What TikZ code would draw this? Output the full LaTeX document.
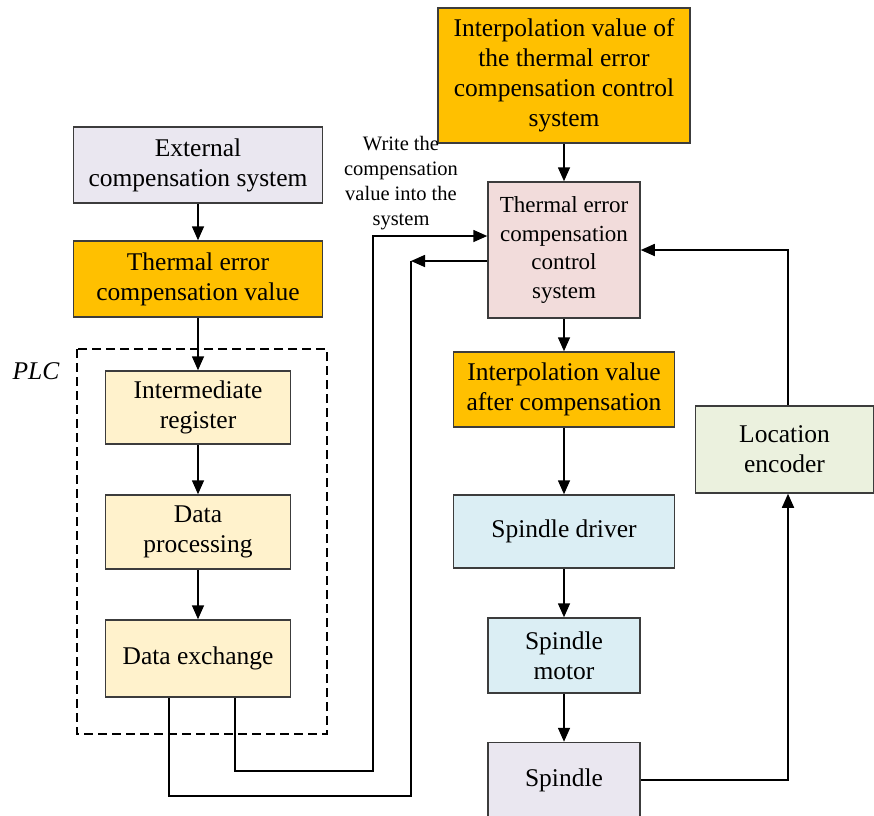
\documentclass[tikz,border=0pt]{standalone}
\usepackage{fontspec}
\setmainfont{Liberation Serif}
\usetikzlibrary{arrows.meta}
\definecolor{lav}{RGB}{234,231,240}
\definecolor{org}{RGB}{255,192,0}
\definecolor{ylw}{RGB}{255,242,204}
\definecolor{pnk}{RGB}{242,220,219}
\definecolor{lblue}{RGB}{219,238,244}
\definecolor{grn}{RGB}{235,241,222}
\definecolor{bord}{RGB}{60,60,60}
\tikzset{
  box/.style={draw=bord, line width=1.5pt, align=center, inner sep=1pt,
    font=\fontsize{25.5}{30}\selectfont},
  arr/.style={line width=1.6pt, -{Triangle[length=14pt,width=12pt]}},
  ln/.style={line width=1.6pt},
}
\begin{document}
\begin{tikzpicture}[x=1pt,y=-1pt]
\useasboundingbox (0,0) rectangle (874,815);
% left column
\node[box, fill=lav, minimum width=249pt, minimum height=76pt] (ext) at (198,165) {External\\compensation system};
\node[box, fill=org, minimum width=249pt, minimum height=76pt] (tval) at (198,279) {Thermal error\\compensation value};
\draw[dash pattern=on 9pt off 5pt, line width=1.5pt] (77,349) rectangle (327,734);
\node[font=\fontsize{25.5}{30}\selectfont\itshape] (plc) at (36,371) {PLC};
\node[box, fill=ylw, minimum width=185pt, minimum height=73pt] (ireg) at (198,407.5) {Intermediate\\register};
\node[box, fill=ylw, minimum width=185pt, minimum height=74pt] (dproc) at (198,532) {Data\\processing};
\node[box, fill=ylw, minimum width=185pt, minimum height=77pt] (dex) at (198,658.5) {Data exchange};
% right column
\node[box, fill=org, minimum width=252pt, minimum height=135pt] (topint) at (564,75.5) {Interpolation value of\\the thermal error\\compensation control\\system};
\node[box, fill=pnk, minimum width=152pt, minimum height=136pt, font=\fontsize{23}{28.5}\selectfont] (ctrl) at (564,250) {Thermal error\\compensation\\control\\system};
\node[box, fill=org, minimum width=221pt, minimum height=75pt] (after) at (564,389.5) {Interpolation value\\after compensation};
\node[box, fill=lblue, minimum width=221pt, minimum height=73pt] (sdrv) at (564,531.5) {Spindle driver};
\node[box, fill=lblue, minimum width=152pt, minimum height=75pt] (smot) at (564,655.5) {Spindle\\motor};
\node[box, fill=lav, minimum width=152pt, minimum height=75pt] (spin) at (564,780) {Spindle};
\node[box, fill=grn, minimum width=178pt, minimum height=87pt] (enc) at (784.5,449.5) {Location\\encoder};
\node[align=center, inner sep=0pt, font=\fontsize{20.5}{25}\selectfont] (lbl) at (401,183) {Write the\\compensation\\value into the\\system};
% connectors
\draw[arr] (ext) -- (tval);
\draw[arr] (tval) -- (ireg);
\draw[arr] (ireg) -- (dproc);
\draw[arr] (dproc) -- (dex);
\draw[arr] (topint) -- (ctrl);
\draw[arr] (ctrl) -- (after);
\draw[arr] (after) -- (sdrv);
\draw[arr] (sdrv) -- (smot);
\draw[arr] (smot) -- (spin);
\coordinate (a1) at (235,771);
\coordinate (a2) at (373,771);
\coordinate (a3) at (373,236);
\draw[arr] ([xshift=37pt]dex.south) -- (a1) -- (a2) -- (a3) -- ([yshift=14pt]ctrl.west);
\coordinate (b1) at (411,261);
\coordinate (b2) at (411,796);
\coordinate (b3) at (169,796);
\draw[arr] ([yshift=-11pt]ctrl.west) -- (b1);
\draw[ln] (b1) -- (b2) -- (b3) -- ([xshift=-29pt]dex.south);
\draw[arr] (spin.east) -| ([xshift=3.5pt]enc.south);
\draw[arr] ([xshift=3.5pt]enc.north) |- (ctrl.east);
\end{tikzpicture}
\end{document}
